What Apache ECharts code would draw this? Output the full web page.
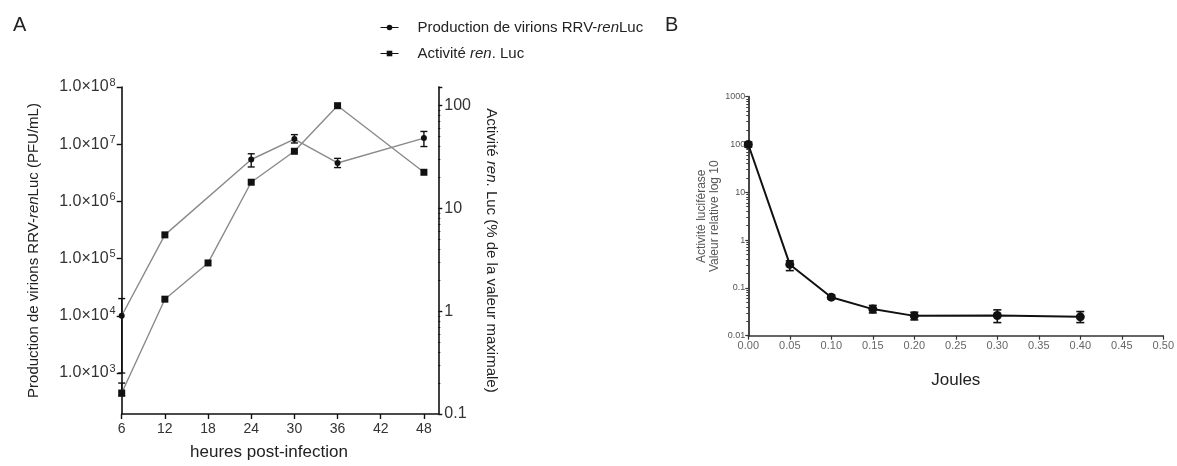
<!DOCTYPE html>
<html><head><meta charset="utf-8">
<script src="https://cdn.jsdelivr.net/npm/echarts@6/dist/echarts.min.js"></script>
<style>html,body{margin:0;padding:0;background:#fff}#c{width:1177px;height:466px}</style>
</head><body><div id="c"></div>
<script>
// Panel A data
const hoursVirions = [6, 12, 24, 30, 36, 48];
const virions      = [1.0e4, 2.6e5, 5.4e6, 1.23e7, 4.7e6, 1.28e7];
const virionsLow   = [1.0e3, null, 4.0e6, 1.05e7, 3.9e6, 9.1e6];
const virionsHigh  = [2.0e4, null, 6.8e6, 1.47e7, 5.65e6, 1.67e7];
const hoursLuc     = [6, 12, 18, 24, 30, 36, 48];
const lucActivity  = [0.16, 1.31, 2.95, 18, 36, 100, 22.5];
const lucLow       = [0.15, null, null, null, null, null, null];
const lucHigh      = [0.2, null, null, null, null, null, null];
// Panel B data
const joules  = [0, 0.05, 0.10, 0.15, 0.20, 0.30, 0.40];
const lucB    = [100, 0.31, 0.064, 0.036, 0.026, 0.0265, 0.0248];
const lucBLow = [88, 0.23, 0.058, 0.030, 0.0214, 0.0188, 0.0188];
const lucBHigh= [112, 0.37, 0.071, 0.043, 0.031, 0.0347, 0.032];

const FONT = '"Liberation Sans", Arial, sans-serif';
function pairs(xs, ys){ return xs.map((x,i)=>[x, ys[i]]); }
function errData(xs, lo, hi){ const out=[]; xs.forEach((x,i)=>{ if(lo[i]!=null && hi[i]!=null) out.push([x, lo[i], hi[i]]); }); return out; }
function errSeries(data, xi, yi, cap, width){
  return { type:'custom', xAxisIndex:xi, yAxisIndex:yi, data:data, z:5, silent:true,
    encode:{x:0, y:[1,2]},
    renderItem:function(params, api){
      const x = api.value(0);
      const lo = api.coord([x, api.value(1)]);
      const hi = api.coord([x, api.value(2)]);
      const st = {stroke:'#111', lineWidth:width};
      return {type:'group', children:[
        {type:'line', shape:{x1:lo[0], y1:lo[1], x2:hi[0], y2:hi[1]}, style:st},
        {type:'line', shape:{x1:lo[0]-cap, y1:lo[1], x2:lo[0]+cap, y2:lo[1]}, style:st},
        {type:'line', shape:{x1:hi[0]-cap, y1:hi[1], x2:hi[0]+cap, y2:hi[1]}, style:st}
      ]};
    }};
}
function decadeLabel(v){
  const e = Math.log10(v); const r = Math.round(e);
  if (Math.abs(e-r) > 1e-6) return '';
  return '1.0×10{sup|' + r + '}';
}
function plainDecade(v){
  const e = Math.log10(v); const r = Math.round(e);
  if (Math.abs(e-r) > 1e-6) return '';
  return String(Math.pow(10, r) >= 1 ? Math.pow(10, r) : Number(Math.pow(10, r).toFixed(-r)));
}

// virions series data with per-point symbol (the 12 h point appears as a square)
const virionsData = pairs(hoursVirions, virions).map((p,i)=> i===1 ? {value:p, symbol:'rect', symbolSize:7} : p);

const chart = echarts.init(document.getElementById('c'), null, {renderer:'canvas'});
chart.setOption({
  animation:false,
  textStyle:{fontFamily:FONT},
  title:[
    {text:'A', left:8, top:10, textStyle:{fontSize:20, fontWeight:'normal', color:'#222', fontFamily:FONT}},
    {text:'B', left:660, top:10, textStyle:{fontSize:20, fontWeight:'normal', color:'#222', fontFamily:FONT}}
  ],
  legend:{
    left:375, top:15, orient:'vertical', itemGap:11, itemWidth:18, itemHeight:7,
    textStyle:{fontSize:15, color:'#222', fontFamily:FONT, padding:[0,0,0,14], rich:{i:{fontStyle:'italic', fontSize:15, color:'#222', fontFamily:FONT}}},
    data:[
      {name:'Production de virions RRV-{i|ren}Luc', itemStyle:{color:'#111'}, lineStyle:{color:'#111', width:1}},
      {name:'Activité {i|ren}. Luc', itemStyle:{color:'#111'}, lineStyle:{color:'#111', width:1}}
    ]
  },
  grid:[
    {left:121.7, right:738.7, top:87, bottom:52},
    {left:748.3, right:10.3, top:96.7, bottom:130.3}
  ],
  xAxis:[
    {gridIndex:0, type:'value', min:6, max:50, interval:6,
     name:'heures post-infection', nameLocation:'middle', nameGap:30,
     nameTextStyle:{fontSize:17, color:'#222', padding:[0,22,0,0]},
     axisLine:{lineStyle:{color:'#111', width:1.6}},
     axisTick:{show:true, length:5, lineStyle:{color:'#111', width:1.4}},
     axisLabel:{fontSize:14, color:'#333', margin:8, showMaxLabel:false},
     splitLine:{show:false}},
    {gridIndex:1, type:'value', min:0, max:0.5, interval:0.05,
     name:'Joules', nameLocation:'middle', nameGap:36,
     nameTextStyle:{fontSize:17, color:'#222'},
     axisLine:{lineStyle:{color:'#333', width:1.6}},
     axisTick:{show:true, length:4, lineStyle:{color:'#333', width:1.2}},
     axisLabel:{fontSize:11, color:'#666', margin:5, formatter:v=>v.toFixed(2)},
     splitLine:{show:false}}
  ],
  yAxis:[
    {gridIndex:0, type:'log', min:Math.pow(10, 2.283), max:1e8, logBase:10,
     name:'Production de virions RRV-{i|ren}Luc (PFU/mL)', nameLocation:'middle', nameGap:80,
     nameTextStyle:{fontSize:15, color:'#222', rich:{i:{fontStyle:'italic', fontSize:15, color:'#222'}}},
     axisLine:{show:true, lineStyle:{color:'#111', width:1.6}},
     axisTick:{show:true, length:5, lineStyle:{color:'#111', width:1.4}},
     axisLabel:{fontSize:16, color:'#333', margin:6, showMinLabel:false, formatter:decadeLabel,
       rich:{sup:{fontSize:11, verticalAlign:'bottom', padding:[0,0,9,1], color:'#333'}}},
     splitLine:{show:false}},
    {gridIndex:0, type:'log', position:'right', min:0.1, max:152, logBase:10,
     name:'Activité {i|ren}. Luc (% de la valeur maximale)', nameLocation:'middle', nameGap:45, nameRotate:-90,
     nameTextStyle:{fontSize:15, color:'#222', rich:{i:{fontStyle:'italic', fontSize:15, color:'#222'}}},
     axisLine:{show:true, lineStyle:{color:'#111', width:1.6}},
     axisTick:{show:true, length:4, lineStyle:{color:'#111', width:1.4}},
     minorTick:{show:true, splitNumber:9, length:2, lineStyle:{color:'#111'}},
     axisLabel:{fontSize:16, color:'#333', margin:6, showMaxLabel:false, formatter:plainDecade},
     splitLine:{show:false}},
    {gridIndex:1, type:'log', min:0.01, max:1000, logBase:10,
     name:'Activité luciférase\nValeur relative log 10', nameLocation:'middle', nameGap:14,
     nameTextStyle:{fontSize:12, color:'#555', lineHeight:13},
     axisLine:{show:true, lineStyle:{color:'#333', width:1.8}},
     axisTick:{show:true, length:3, lineStyle:{color:'#333', width:1.2}},
     minorTick:{show:true, splitNumber:9, length:2, lineStyle:{color:'#333'}},
     axisLabel:{fontSize:9, color:'#555', margin:3, formatter:plainDecade},
     splitLine:{show:false}}
  ],
  series:[
    {name:'Production de virions RRV-{i|ren}Luc', type:'line', xAxisIndex:0, yAxisIndex:0,
     data:virionsData, symbol:'circle', symbolSize:6, clip:false, z:3,
     lineStyle:{color:'#8a8a8a', width:1.4}, itemStyle:{color:'#111'}},
    {name:'Activité {i|ren}. Luc', type:'line', xAxisIndex:0, yAxisIndex:1,
     data:pairs(hoursLuc, lucActivity), symbol:'rect', symbolSize:7, clip:false, z:3,
     lineStyle:{color:'#8a8a8a', width:1.4}, itemStyle:{color:'#111'}},
    errSeries(errData(hoursVirions, virionsLow, virionsHigh), 0, 0, 3.5, 1.4),
    errSeries(errData(hoursLuc, lucLow, lucHigh), 0, 1, 3.5, 1.4),
    {name:'B', type:'line', xAxisIndex:1, yAxisIndex:2,
     data:pairs(joules, lucB), symbol:'circle', symbolSize:9, clip:false, z:3,
     lineStyle:{color:'#111', width:2}, itemStyle:{color:'#111'}},
    errSeries(errData(joules, lucBLow, lucBHigh), 1, 2, 4, 1.6)
  ]
});
</script></body></html>
